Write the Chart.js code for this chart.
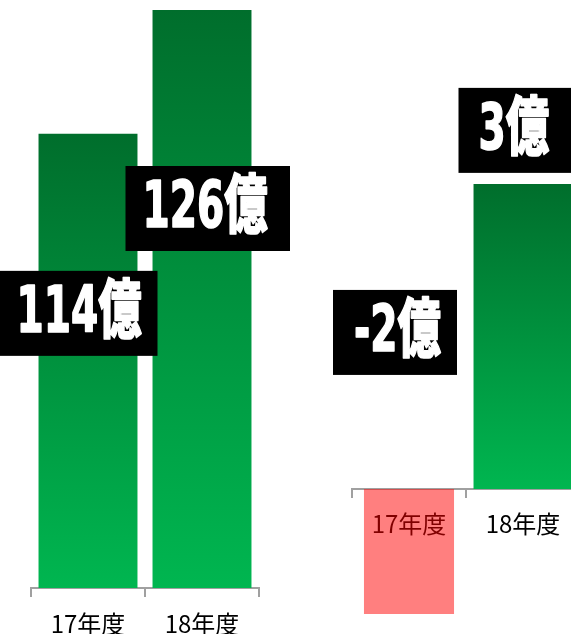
<!DOCTYPE html>
<html>
<head>
<meta charset="utf-8">
<script src="https://cdn.jsdelivr.net/npm/chart.js@4/dist/chart.umd.min.js"></script>
<style>
  html, body { margin: 0; padding: 0; background: #fff; overflow: hidden; width: 571px; height: 634px; }
  canvas { position: absolute; top: 0; }
  #left { left: 0; }
  #right { left: 330px; }
</style>
</head>
<body>
<canvas id="left" width="290" height="634"></canvas>
<canvas id="right" width="260" height="634"></canvas>
<script>
// ---- data ----
const categories = ['17年度', '18年度'];
const salesValues = [114, 126];          // left panel (億)
const profitValues = [-2, 3];            // right panel (億)
const unitLabel = '億';
const salesAxisRange = [70, 126];
const profitAxisRange = [-1.23, 4.71];

// ---- styles ----
const GREEN_TOP = '#006E2C';
const GREEN_BOTTOM = '#00B650';
const NEG_COLOR = 'rgba(255, 0, 0, 0.5)';
const AXIS_COLOR = '#a0a0a0';
const TICK_FONT = { family: "'Noto Sans CJK JP', 'Noto Sans', sans-serif", size: 24 };
const LABEL_FONT = "900 64px 'DejaVu Sans Condensed', 'DejaVu Sans', 'Noto Sans CJK JP', sans-serif";
const LABEL_SX = 0.68;
const BOX_H = 85;

function greenGradient(c) {
  const chart = c.chart;
  if (!chart.chartArea || c.type !== 'data' || c.raw == null) return GREEN_BOTTOM;
  const y = chart.scales.y;
  const top = y.getPixelForValue(c.raw);
  const base = y.getBasePixel();
  const g = chart.ctx.createLinearGradient(0, top, 0, base);
  g.addColorStop(0, GREEN_TOP);
  g.addColorStop(1, GREEN_BOTTOM);
  return g;
}

const boxLabels = {
  id: 'boxLabels',
  afterDatasetsDraw(chart, args, opts) {
    const ctx = chart.ctx;
    (opts.items || []).forEach(item => {
      const el = chart.getDatasetMeta(item.dataset).data[item.index];
      const value = chart.data.datasets[item.dataset].data[item.index];
      const top = Math.min(el.y, el.base);
      const text = value + unitLabel;
      ctx.save();
      const left = el.x + item.dx;
      const cy = top + item.dy;
      ctx.fillStyle = '#000';
      ctx.fillRect(left, cy - BOX_H / 2, item.w, BOX_H);
      ctx.font = LABEL_FONT;
      ctx.translate(left + item.padL, cy + 2);
      ctx.scale(LABEL_SX, 1);
      ctx.fillStyle = '#fff';
      ctx.strokeStyle = '#fff';
      ctx.lineWidth = 1.6;
      ctx.lineJoin = 'round';
      ctx.textBaseline = 'middle';
      ctx.textAlign = 'left';
      ctx.fillText(text, 0, 0);
      ctx.strokeText(text, 0, 0);
      ctx.restore();
    });
  }
};

function xScale(yZero) {
  return {
    position: { y: yZero },
    grid: { display: true, drawOnChartArea: false, drawTicks: true, tickLength: 8, offset: true, color: AXIS_COLOR, lineWidth: 2 },
    border: { display: true, color: AXIS_COLOR, width: 2 },
    ticks: { color: '#000', font: TICK_FONT, padding: 13 }
  };
}

new Chart(document.getElementById('left'), {
  type: 'bar',
  data: {
    labels: categories,
    datasets: [{
      data: salesValues,
      backgroundColor: greenGradient,
      borderWidth: 0,
      barPercentage: 0.868,
      categoryPercentage: 1
    }]
  },
  options: {
    responsive: false,
    animation: false,
    layout: { padding: { left: 31, right: 31, top: 10, bottom: 46 } },
    scales: {
      x: xScale(salesAxisRange[0]),
      y: { display: false, min: salesAxisRange[0], max: salesAxisRange[1] }
    },
    plugins: {
      legend: { display: false },
      tooltip: { enabled: false },
      boxLabels: { items: [
        { dataset: 0, index: 0, dx: -88.5, dy: 179.5, w: 158, padL: 17 },
        { dataset: 0, index: 1, dx: -76.5, dy: 198.5, w: 170, padL: 17 }
      ] }
    }
  },
  plugins: [boxLabels]
});

new Chart(document.getElementById('right'), {
  type: 'bar',
  data: {
    labels: categories,
    datasets: [
      {
        data: [profitValues[0], null],
        backgroundColor: NEG_COLOR,
        borderWidth: 0,
        barPercentage: 0.79,
        categoryPercentage: 1,
        grouped: false
      },
      {
        data: [null, profitValues[1]],
        backgroundColor: greenGradient,
        borderWidth: 0,
        barPercentage: 0.868,
        categoryPercentage: 1,
        grouped: false
      }
    ]
  },
  options: {
    responsive: false,
    animation: false,
    layout: { padding: { left: 22, right: 10, top: 10, bottom: 20 } },
    scales: {
      x: xScale(0),
      y: { display: false, min: profitAxisRange[0], max: profitAxisRange[1] }
    },
    plugins: {
      legend: { display: false },
      tooltip: { enabled: false },
      boxLabels: { items: [
        { dataset: 0, index: 0, dx: -76, dy: -156.5, w: 124, padL: 21 },
        { dataset: 1, index: 1, dx: -64.5, dy: -53.5, w: 130, padL: 20 }
      ] }
    }
  },
  plugins: [boxLabels]
});
</script>
</body>
</html>
